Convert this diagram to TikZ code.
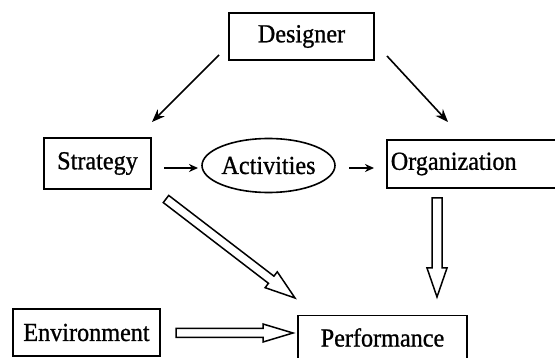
\documentclass[tikz,border=0pt]{standalone}
\usepackage{fontspec}
\setmainfont{Liberation Serif}
\newfontfamily\heavyfont{Liberation Serif}[FakeBold=0.9,FakeStretch=0.93]
\usetikzlibrary{calc,arrows.meta,shapes.geometric}
\tikzset{
  box/.style={draw, line width=1.6pt, inner sep=0pt, font=\heavyfont\fontsize{26}{28}\selectfont},
  conn/.style={line width=1.6pt, -{Stealth[length=13pt,width=10pt]}},
  sconn/.style={line width=1.6pt, -{Stealth[length=9pt,width=8pt]}},
  hollow/.style={line width=1.5pt, line join=miter, fill=white}
}
\newcommand\hollowarr[5]{% start, tip, half shaft, half head, head length
  \coordinate (ha-n) at ($(#2)!#5!(#1)$);
  \draw[hollow] ($(#1)!#3!90:(#2)$) -- ($(ha-n)!#3!-90:(#1)$) -- ($(ha-n)!#4!-90:(#1)$)
    -- (#2) -- ($(ha-n)!#4!90:(#1)$) -- ($(ha-n)!#3!90:(#1)$) -- ($(#1)!#3!-90:(#2)$) -- cycle;}
\begin{document}
\begin{tikzpicture}[x=1pt,y=-1pt]
\useasboundingbox (0,0) rectangle (555,358);
\node[box, line width=2.6pt, minimum width=145pt, minimum height=47pt] (des) at (301.5,36.5) {Designer};
\node[box, minimum width=107pt, minimum height=51pt] (str) at (97.5,163.5) {Strategy};
\node[box, ellipse, minimum width=131pt, minimum height=54pt] (act) at (268.5,165.5) {Activities};
\node[box, anchor=west, minimum height=48pt, text width=172pt, align=left, inner xsep=4pt] (org) at (386,164) {Organization};
\node[box, minimum width=169pt, minimum height=44pt] (per) at (382.5,337.5) {Performance};
\node[box, minimum width=147pt, minimum height=47pt] (env) at (86.5,332.5) {Environment};
% thin arrows
\coordinate (d1) at (219,55);  \coordinate (s1) at (152,122);
\coordinate (d2) at (387,56);  \coordinate (o1) at (448,122);
\coordinate (s2) at (164,168); \coordinate (a1) at (198,168);
\coordinate (a2) at (349,168); \coordinate (o2) at (374,168);
\draw[conn] (d1) -- (s1);
\draw[conn] (d2) -- (o1);
\draw[sconn] (s2) -- (a1);
\draw[sconn] (a2) -- (o2);
% hollow arrows
\coordinate (s3) at (166,199); \coordinate (p1) at (295,298);
\coordinate (o3) at (437,198); \coordinate (p2) at (437,297);
\coordinate (e1) at (176,333); \coordinate (p3) at (293,333);
\hollowarr{s3}{p1}{4.5pt}{10pt}{30pt}
\hollowarr{o3}{p2}{5pt}{10pt}{29pt}
\hollowarr{e1}{p3}{4.5pt}{9pt}{30pt}
\end{tikzpicture}
\end{document}
